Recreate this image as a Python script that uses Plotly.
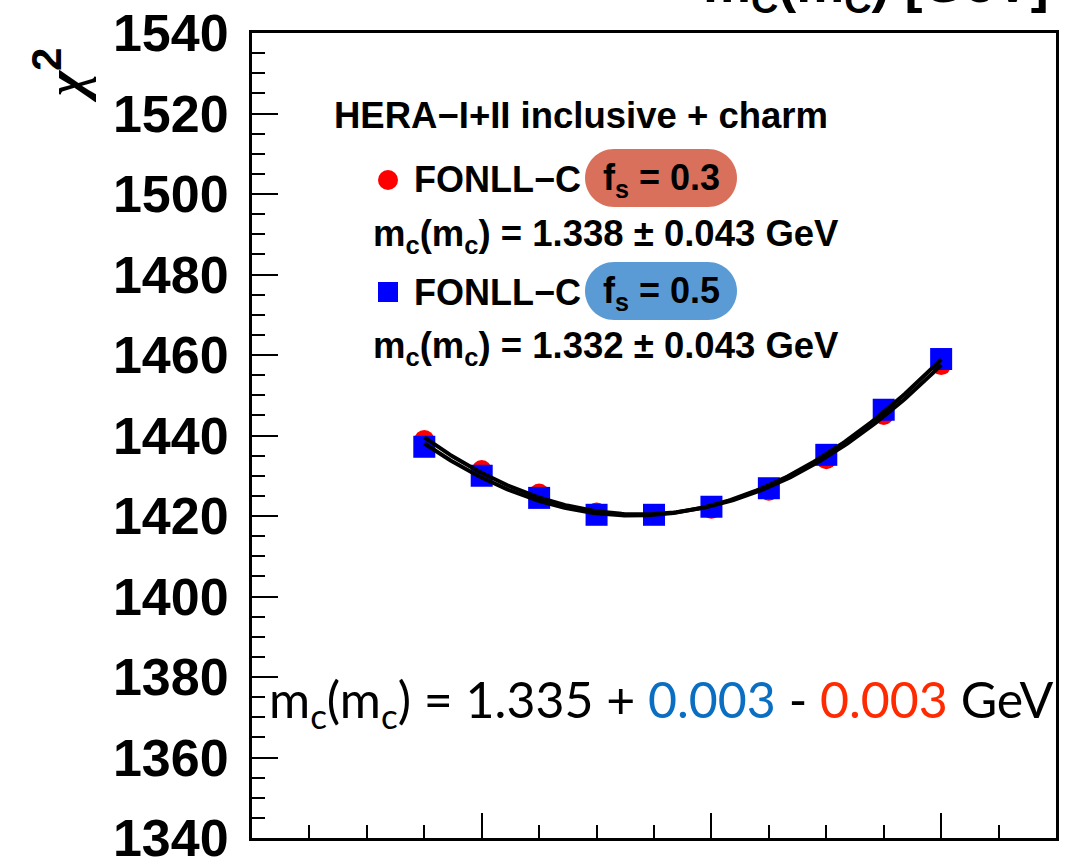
import numpy as np
import plotly.graph_objects as go

# charm mass scan points, m_c(m_c) in GeV
mass = [1.15, 1.20, 1.25, 1.30, 1.35, 1.40, 1.45, 1.50, 1.55, 1.60]
# total chi2 for the two strangeness fractions
chi2_fs03 = [1438.9, 1431.4, 1425.6, 1420.9, 1420.4, 1421.8, 1426.3, 1434.1, 1445.1, 1457.5]
chi2_fs05 = [1437.2, 1430.0, 1424.5, 1420.3, 1420.3, 1422.3, 1426.9, 1435.2, 1446.4, 1459.0]

# parabola fit results: minimum position, 1-sigma uncertainty, chi2 at minimum
fit_fs03 = dict(m0=1.338, err=0.043, chi2min=1420.4)
fit_fs05 = dict(m0=1.332, err=0.043, chi2min=1420.1)
combined = dict(m0=1.335, up=0.003, down=0.003)

x_range = [1.0, 1.7]
y_range = [1340, 1540]

W, H = 1077, 859
L, R, T, B = 252, 1056, 33, 838   # frame edges in pixels


def px(x):
    return (x - L) / (R - L)


def py(y):
    return (B - y) / (B - T)


def pill_path(x0, x1, yc, h):
    """Rounded-end box path in paper coordinates (pixel inputs)."""
    r = h / 2.0
    k = 0.5523 * r
    a, b = x0 + r, x1 - r
    yt, yb = yc - r, yc + r
    pts = [
        f"M{px(a)},{py(yt)}",
        f"L{px(b)},{py(yt)}",
        f"C{px(b + k)},{py(yt)} {px(x1)},{py(yc - k)} {px(x1)},{py(yc)}",
        f"C{px(x1)},{py(yc + k)} {px(b + k)},{py(yb)} {px(b)},{py(yb)}",
        f"L{px(a)},{py(yb)}",
        f"C{px(a - k)},{py(yb)} {px(x0)},{py(yc + k)} {px(x0)},{py(yc)}",
        f"C{px(x0)},{py(yc - k)} {px(a - k)},{py(yt)} {px(a)},{py(yt)}",
        "Z",
    ]
    return " ".join(pts)


def parabola(fit, xs):
    xs = np.asarray(xs)
    return fit["chi2min"] + ((xs - fit["m0"]) / fit["err"]) ** 2


fig = go.Figure()

fig.add_trace(go.Scatter(
    x=mass, y=chi2_fs03, mode="markers",
    marker=dict(symbol="circle", size=20, color="#ff0000", line=dict(width=0)),
    showlegend=False, hoverinfo="skip"))
fig.add_trace(go.Scatter(
    x=mass, y=chi2_fs05, mode="markers",
    marker=dict(symbol="square", size=22, color="#0000ff", line=dict(width=0)),
    showlegend=False, hoverinfo="skip"))

xs = np.linspace(mass[0], mass[-1], 200)
for fit in (fit_fs03, fit_fs05):
    fig.add_trace(go.Scatter(
        x=xs, y=parabola(fit, xs), mode="lines",
        line=dict(color="black", width=4),
        showlegend=False, hoverinfo="skip"))

bold = dict(family="Liberation Sans, Arial, Helvetica", color="black")

shapes = [
    dict(type="path", xref="paper", yref="paper",
         path=pill_path(585, 737, 178, 58),
         fillcolor="#d9705b", line=dict(width=0), layer="below"),
    dict(type="path", xref="paper", yref="paper",
         path=pill_path(585, 737, 291, 58),
         fillcolor="#5b9bd5", line=dict(width=0), layer="below"),
    dict(type="circle", xref="paper", yref="paper",
         x0=px(378), x1=px(398), y0=py(190), y1=py(170),
         fillcolor="#ff0000", line=dict(width=0)),
    dict(type="rect", xref="paper", yref="paper",
         x0=px(378), x1=px(398), y0=py(302), y1=py(282),
         fillcolor="#0000ff", line=dict(width=0)),
]


def note(text, x, y, size, xanchor="left", font=None, **kw):
    f = dict(bold) if font is None else dict(font)
    f["size"] = size
    return dict(text=text, xref="paper", yref="paper", x=px(x), y=py(y),
                xanchor=xanchor, yanchor="middle", showarrow=False,
                font=f, **kw)


annotations = [
    note("<b>HERA\u2212I+II inclusive + charm</b>", 332, 115, 36.5),
    note("<b>FONLL\u2212C</b>", 412, 179, 36),
    note("<b>f<sub>s</sub> = 0.3</b>", 661, 180, 36, xanchor="center"),
    note(f"<b>m<sub>c</sub>(m<sub>c</sub>) = {fit_fs03['m0']:.3f} \u00b1 {fit_fs03['err']:.3f} GeV</b>",
         371, 236, 36.5),
    note("<b>FONLL\u2212C</b>", 412, 292, 36),
    note("<b>f<sub>s</sub> = 0.5</b>", 661, 293, 36, xanchor="center"),
    note(f"<b>m<sub>c</sub>(m<sub>c</sub>) = {fit_fs05['m0']:.3f} \u00b1 {fit_fs05['err']:.3f} GeV</b>",
         371, 348, 36.5),
    note(f"m<sub>c</sub>(m<sub>c</sub>) = {combined['m0']:.3f} + "
         f"<span style='color:#0a6fc2'>{combined['up']:.3f}</span> - "
         f"<span style='color:#ff2a00'>{combined['down']:.3f}</span> GeV",
         267, 702, 50, font=dict(family="Lato, Open Sans, sans-serif", color="black")),
    # y-axis title
    note("<span style='font-family:Liberation Serif'><b><i>\u03c7</i></b></span>"
         "<sup><b><span style='font-size:42px'>2</span></b></sup>",
         60, 76, 54, xanchor="center", textangle=-90),
    # x-axis title (top right)
    note("<b>m<sub>C</sub>(m<sub>C</sub>) [GeV]</b>", 1051, -13, 54, xanchor="right"),
]

axis_common = dict(
    showline=True, linewidth=3, linecolor="black", mirror=True,
    showgrid=False, zeroline=False, automargin=False,
    ticks="inside", tickcolor="black", tickwidth=2,
)

fig.update_layout(
    width=W, height=H,
    margin=dict(l=L, r=W - R, t=T, b=H - B, autoexpand=False),
    paper_bgcolor="white", plot_bgcolor="white",
    shapes=shapes, annotations=annotations,
    xaxis=dict(range=x_range, tick0=1.0, dtick=0.2, ticklen=25,
               showticklabels=False,
               minor=dict(dtick=0.05, ticklen=13, tickwidth=2,
                          ticks="inside", tickcolor="black"),
               **axis_common),
    yaxis=dict(range=y_range, tick0=1340, dtick=20, ticklen=26,
               tickfont=dict(family="Liberation Sans, Arial", size=52, color="black"),
               tickprefix="<b>", ticksuffix="</b>",
               ticklabeloverflow="allow", ticklabelstandoff=10,
               minor=dict(dtick=5, ticklen=13, tickwidth=2,
                          ticks="inside", tickcolor="black"),
               **axis_common),
)

fig.write_html("out.html")
